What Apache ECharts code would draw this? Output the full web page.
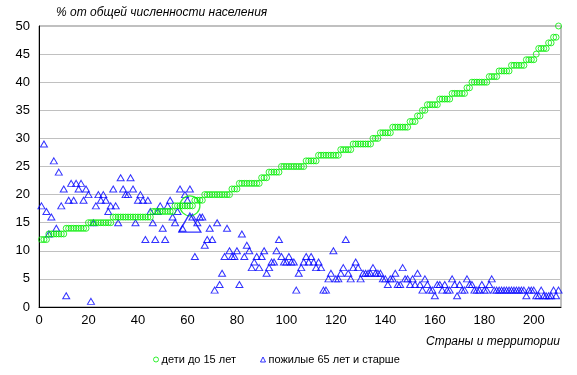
<!DOCTYPE html>
<html>
<head>
<meta charset="utf-8">
<script src="https://cdn.jsdelivr.net/npm/echarts@6/dist/echarts.min.js"></script>
<style>html,body{margin:0;padding:0;background:#fff;}#c{width:577px;height:375px;}</style>
</head>
<body>
<div id="c"></div>
<script>
// Values; x = country rank (1..210)
var childrenUnder15 = [
12,12,12,13,13,13,13,13,13,13,
14,14,14,14,14,14,14,14,14,15,
15,15,15,15,15,15,15,15,15,16,
16,16,16,16,16,16,16,16,16,16,
16,16,16,16,16,17,17,17,17,17,
17,17,17,17,18,18,18,18,18,18,
18,18,19,19,19,19,20,20,20,20,
20,20,20,20,20,20,20,21,21,21,
22,22,22,22,22,22,22,22,22,23,
23,23,24,24,24,24,24,25,25,25,
25,25,25,25,25,25,25,26,26,26,
26,26,27,27,27,27,27,27,27,27,
27,28,28,28,28,28,29,29,29,29,
29,29,29,29,30,30,30,31,31,31,
31,31,32,32,32,32,32,32,32,33,
33,33,34,34,35,35,36,36,36,36,
36,37,37,37,37,37,38,38,38,38,
38,38,39,39,40,40,40,40,40,40,
40,41,41,41,41,42,42,42,42,42,
43,43,43,43,43,43,44,44,44,44,
45,46,46,46,46,47,47,48,48,50
];
var elderly65plus = [
18,29,17,13,16,26,14,24,18,21,
2,19,22,19,22,21,22,19,21,20,
1,15,18,20,19,20,19,17,18,21,
18,15,23,21,20,20,23,21,15,19,
20,19,12,19,17,15,12,17,18,14,
12,18,19,16,15,17,21,14,20,19,
21,16,9,15,16,16,11,12,14,12,
3,15,4,6,9,14,10,9,9,10,
4,13,9,11,10,7,8,9,7,9,
10,6,7,8,8,10,12,9,8,8,
9,8,8,3,6,7,8,9,8,9,
8,7,8,7,3,3,5,6,10,5,
5,6,7,12,6,5,7,8,7,5,
6,6,6,6,7,6,6,6,5,5,
4,5,5,6,4,4,7,5,5,4,
5,4,6,4,3,5,4,3,3,2,
4,4,3,4,3,3,5,4,2,4,
3,3,5,4,4,3,3,3,4,3,
3,4,5,3,3,3,3,3,3,3,
3,3,3,3,3,3,2,3,3,3,
2,2,3,2,2,2,2,3,2,3
];
// Highlighted country (large markers)
var highlightX = [61];
var highlightChildren = [18];
var highlightElderly = [15];

var xTickInterval = 20, xMax = 211, yMax = 50, yInterval = 5;
var seriesNames = ['дети до 15 лет', 'пожилые 65 лет и старше'];
var yTitle = '% от общей численности населения';
var xTitle = 'Страны и территории';

function pts(arr){ return arr.map(function(v,i){ return [i+1, v]; }); }

var chart = echarts.init(document.getElementById('c'), null, {renderer:'canvas'});
var green = '#00ee00', blue = '#0000ff';
var font = 'Liberation Sans, Arial, sans-serif';
var hollow = function(c){ return { color: 'rgba(0,0,0,0)', borderColor: c, borderWidth: 1 }; };
chart.setOption({
  animation: false,
  backgroundColor: '#ffffff',
  grid: { left: 39, right: 16, top: 26, bottom: 68, show: true, borderColor: '#808080', borderWidth: 1 },
  xAxis: {
    type: 'value', min: 0, max: xMax, interval: xTickInterval,
    axisLine: { show: true, lineStyle: { color: '#000', width: 1 } },
    axisTick: { show: false },
    splitLine: { show: false },
    axisLabel: { color: '#000', fontSize: 13, fontFamily: font, margin: 7,
      formatter: function(v){ return v <= 200 ? String(v) : ''; } }
  },
  yAxis: {
    type: 'value', min: 0, max: yMax, interval: yInterval,
    axisLine: { show: true, lineStyle: { color: '#000', width: 1 } },
    axisTick: { show: false },
    splitLine: { show: true, lineStyle: { color: '#c0c0c0', width: 1 } },
    axisLabel: { color: '#000', fontSize: 13, fontFamily: font, margin: 9 }
  },
  legend: {
    data: [
      { name: seriesNames[0], icon: 'circle', itemStyle: hollow(green) },
      { name: seriesNames[1], icon: 'triangle', itemStyle: hollow(blue) }
    ],
    left: 148, top: 349, itemWidth: 5, itemHeight: 5, itemGap: 24,
    textStyle: { color: '#000', fontSize: 11, fontFamily: font, padding: [0,0,0,-2] }
  },
  graphic: [
    { type: 'text', left: 56, top: 7, style: { text: yTitle, fill: '#000', font: 'italic 12px ' + font } },
    { type: 'text', right: 17, top: 336, style: { text: xTitle, fill: '#000', font: 'italic 12px ' + font } }
  ],
  series: [
    { name: seriesNames[0], type: 'scatter', symbol: 'circle', symbolSize: 6,
      itemStyle: hollow(green), data: pts(childrenUnder15), z: 3 },
    { name: seriesNames[1], type: 'scatter', symbol: 'triangle', symbolSize: [7,6],
      itemStyle: hollow(blue), data: pts(elderly65plus), z: 2 },
    { name: 'hlc', type: 'scatter', symbol: 'circle', symbolSize: 20, z: 5,
      itemStyle: { color: 'rgba(0,0,0,0)', borderColor: green, borderWidth: 1.3 },
      data: highlightX.map(function(x,i){ return [x, highlightChildren[i]]; }) },
    { name: 'hle', type: 'scatter', symbol: 'triangle', symbolSize: [22,19], z: 5,
      itemStyle: { color: 'rgba(0,0,0,0)', borderColor: blue, borderWidth: 1.3 },
      data: highlightX.map(function(x,i){ return [x, highlightElderly[i]]; }) }
  ]
});
</script>
</body>
</html>
